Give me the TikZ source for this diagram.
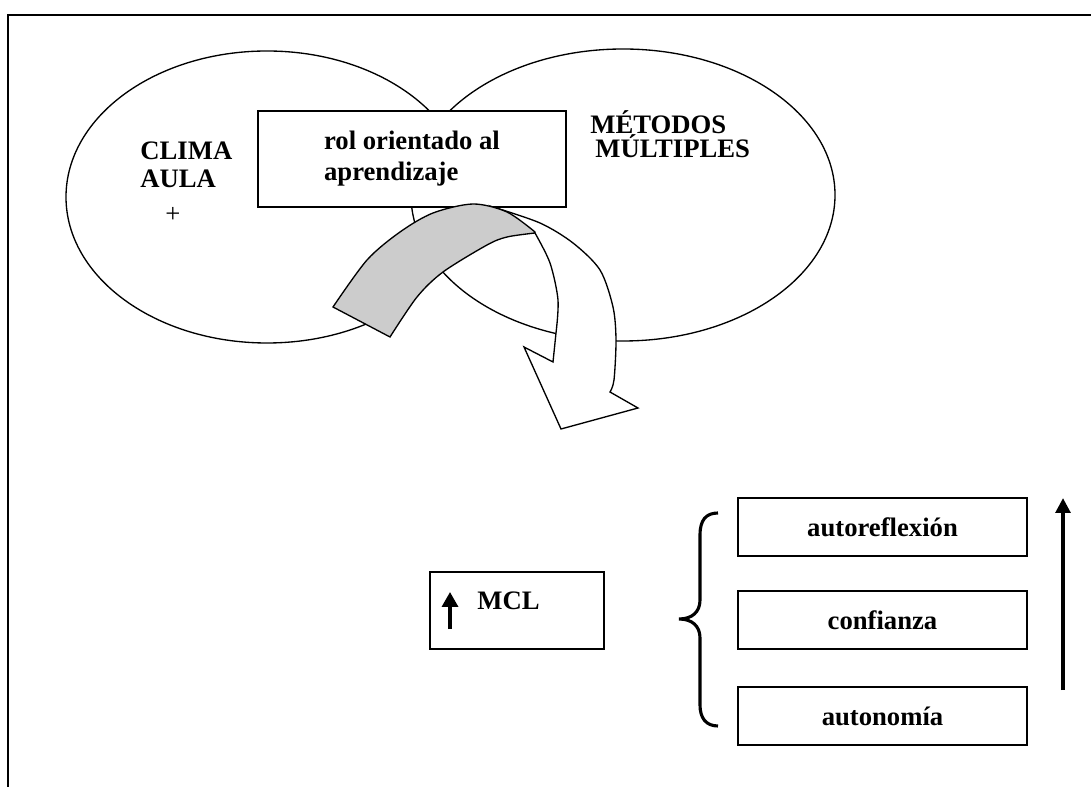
\documentclass[tikz,border=0pt]{standalone}
\usepackage{fontspec}
\setmainfont{Liberation Serif}
\usetikzlibrary{shapes.geometric, arrows.meta, positioning}

\begin{document}
\begin{tikzpicture}[x=0.45pt, y=-0.45pt,
    cloud/.style={ellipse, draw, line width=0.6pt, minimum height=131.4pt, inner sep=0pt},
    box/.style={rectangle, draw, line width=0.9pt, fill=white, align=center, inner sep=0pt,
        font=\fontsize{12}{12.6}\selectfont\bfseries},
    lbl/.style={inner sep=0pt, align=left, font=\fontsize{12}{12.6}\selectfont\bfseries},
    sweep/.style={draw, line width=0.6pt},
    rise/.style={-{Triangle[length=6.75pt, width=6.6pt]}, line width=1.8pt},
]
\useasboundingbox (0,0) rectangle (1091,787);

% frame
\draw[line width=0.9pt] (8,787) -- (8,15) -- (1091,15);

% the two sets
\node[cloud, minimum width=180.9pt] (clima) at (267,197) {};
\node[cloud, minimum width=190.8pt] (metodos) at (623,195) {};

\node[box, minimum width=138.6pt, minimum height=43.2pt, align=left] (rol) at (412,159)
    {rol orientado al\\[1.4pt]aprendizaje};

\node[lbl, anchor=base west] (climatext) at (140,188) {CLIMA\\AULA};
\node[inner sep=0pt, font=\fontsize{12}{12.6}\selectfont] (plus) at (173,215) {+};
\node[lbl, anchor=base west] (metodostext) at (590,158)
    {MÉTODOS\\[-1.8pt]\hspace*{2.2pt}MÚLTIPLES};

% curved arrow, front side with head
\path[sweep, fill=white] plot[smooth] coordinates {(493,207) (540,223) (573,243) (600,270)
        (613,307) (616,340) (614,380) (610,392)}
    -- (638,408) -- (561,429) -- (524,347) -- (553,362)
    -- plot[smooth] coordinates {(556,333) (558,300) (550,263) (535,233)} -- cycle;
% curved arrow, back side
\path[sweep, fill=gray!40] plot[smooth] coordinates {(333,307) (367,260) (400,232) (433,213)
        (473,204) (507,212) (535,232)}
    -- plot[smooth] coordinates {(535,233) (507,237) (487,245) (443,272) (417,297) (390,337)} -- cycle;

% lower part
\node[box, minimum width=77.9pt, minimum height=34.6pt] (mcl) at (517,610.5) {};
\node[lbl, anchor=base west] (mcltext) at (477,609) {MCL};
\coordinate (mclfoot) at (450,629);
\coordinate (mclhead) at (450,592);
\draw[-{Triangle[length=6.75pt, width=7.2pt]}, line width=1.5pt] (mclfoot) -- (mclhead);

\node[box, minimum width=130pt, minimum height=26pt] (autoref) at (882.5,527) {autoreflexión};
\node[box, minimum width=130pt, minimum height=26pt] (confianza) at (882.5,620) {confianza};
\node[box, minimum width=130pt, minimum height=26pt] (autonomia) at (882.5,716) {autonomía};

% brace
\draw[line width=1.4pt] (718,513) .. controls (706,513) and (700,520) .. (700,535)
    -- (700,600) .. controls (700,612) and (692,619) .. (679,619)
    .. controls (692,619) and (700,626) .. (700,638)
    -- (700,705) .. controls (700,718) and (706,726) .. (718,726);

% rising arrow
\coordinate (risefoot) at (1063,690);
\coordinate (risehead) at (1063,498);
\draw[rise] (risefoot) -- (risehead);

\end{tikzpicture}
\end{document}
